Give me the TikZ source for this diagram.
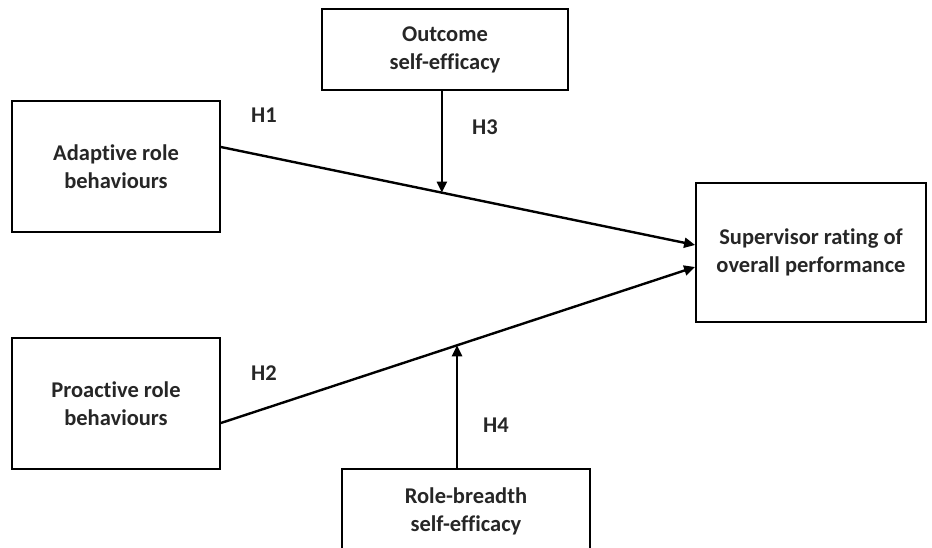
\documentclass[tikz,border=0pt]{standalone}
\usepackage{fontspec}
\setmainfont{Carlito}[Ligatures=NoCommon]
\usetikzlibrary{calc,positioning}
\usetikzlibrary{arrows.meta}
\tikzset{>={Triangle[length=11pt,width=10pt]}}
\definecolor{txtgray}{HTML}{262626}

\begin{document}
\begin{tikzpicture}[x=1pt,y=-1pt]
          \tikzstyle{vbox} = [draw, line width=1.8pt, rectangle, inner sep=0pt, align=center, font=\bfseries\fontsize{22.5}{28}\selectfont, text=txtgray]
          \tikzstyle{hlab} = [inner sep=0pt, font=\bfseries\fontsize{22.5}{28}\selectfont, text=txtgray]
          \tikzstyle{link} = [->, line width=2.4pt]
          \useasboundingbox (0,0) rectangle (932,548);
          \clip (0,0) rectangle (932,548);

          \node[vbox, minimum width=246pt, minimum height=81pt] (outc) at (445,49.5) {Outcome\\self-efficacy};
          \node[vbox, minimum width=208pt, minimum height=131pt] (adapt) at (116,166.5) {Adaptive role\\behaviours};
          \node[vbox, minimum width=208pt, minimum height=131pt] (proact) at (116,403.5) {Proactive role\\behaviours};
          \node[vbox, minimum width=230pt, minimum height=139pt] (superv) at (811,252.5) {Supervisor rating of\\overall performance};
          \node[vbox, minimum width=248pt, minimum height=84pt] (rolebr) at (466,511) {Role-breadth\\self-efficacy};

          % main paths
          \draw[link] ([yshift=19.5pt]adapt.east) -- coordinate[pos=0.466] (m1) ([yshift=7.5pt]superv.west);
          \draw[link] ([yshift=-19.5pt]proact.east) -- coordinate[pos=0.498] (m2) ([yshift=-14.5pt]superv.west);

          % moderators
          \draw[link] (outc.south -| m1) -- (m1);
          \draw[link] (rolebr.north -| m2) -- (m2);

          \node[hlab] (h1) at (264,115) {H1};
          \node[hlab] (h2) at (264,373) {H2};
          \node[hlab] (h3) at (485,127) {H3};
          \node[hlab] (h4) at (496,425) {H4};
        \end{tikzpicture}
\end{document}
